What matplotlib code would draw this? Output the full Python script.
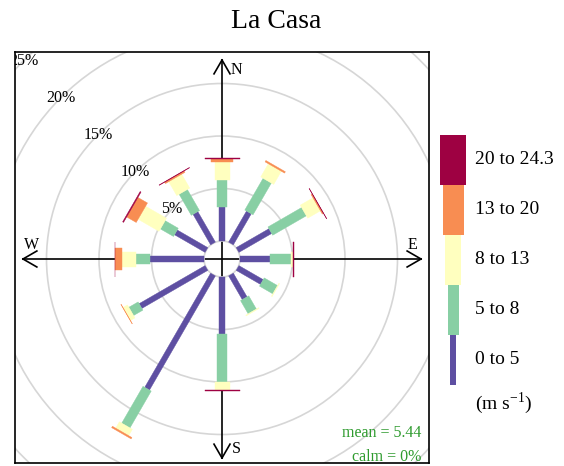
import numpy as np
import matplotlib
matplotlib.use("Agg")
import matplotlib.pyplot as plt
from matplotlib.patches import Polygon, Circle, Rectangle

plt.rcParams["font.family"] = ["Liberation Serif", "DejaVu Serif"]
plt.rcParams["mathtext.fontset"] = "custom"
plt.rcParams["mathtext.rm"] = "Liberation Serif"

TITLE = "La Casa"
DIRECTIONS = [0, 30, 60, 90, 120, 150, 180, 210, 240, 270, 300, 330]
SPEED_BANDS = ["0 to 5", "5 to 8", "8 to 13", "13 to 20", "20 to 24.3"]
BAND_COLOURS = ["#5E4FA2", "#88CFA4", "#FFFFBF", "#F88D52", "#9E0142"]

# frequency (%) of each wind speed band, per direction
FREQ_0_5 = [3.20, 3.41, 3.60, 2.90, 2.67, 2.60, 5.43, 12.55, 7.25, 5.10, 3.36, 3.35]
FREQ_5_8 = [2.64, 3.49, 3.70, 2.00, 1.46, 1.45, 4.61, 4.05, 1.02, 1.42, 1.44, 2.32]
FREQ_8_13 = [1.65, 1.45, 1.40, 0.12, 0.08, 0.08, 0.76, 0.70, 0.49, 1.27, 2.30, 1.53]
FREQ_13_20 = [0.35, 0.15, 0.12, 0.00, 0.00, 0.00, 0.00, 0.15, 0.03, 0.64, 1.05, 0.15]
FREQ_20_24 = [0.09, 0.00, 0.03, 0.08, 0.00, 0.00, 0.08, 0.00, 0.00, 0.08, 0.10, 0.04]

RING_LEVELS = [5, 10, 15, 20, 25]
MEAN_WS = 5.44
CALM = 0

PX = 10.5            # pixels per percent
OFFSET = 18 / PX     # calm circle radius
BAR_WIDTHS = np.array([5.5, 9.5, 15, 22.5, 35]) / PX


def draw_bar(ax, direction, r1, r2, width, colour):
    theta = np.deg2rad(direction)
    u = np.array([np.sin(theta), np.cos(theta)])
    p = np.array([np.cos(theta), -np.sin(theta)])
    corners = [r1 * u - width / 2 * p, r1 * u + width / 2 * p,
               r2 * u + width / 2 * p, r2 * u - width / 2 * p]
    ax.add_patch(Polygon(corners, closed=True, facecolor=colour,
                         edgecolor=colour, linewidth=0.3, zorder=5))


def draw_axis_arrow(ax, length, head=16 / PX, angle=30):
    ax.plot([-length, length], [0, 0], color="black", lw=1.2, zorder=3)
    ax.plot([0, 0], [-length, length], color="black", lw=1.2, zorder=3)
    a = np.deg2rad(angle)
    for dx, dy in [(1, 0), (-1, 0), (0, 1), (0, -1)]:
        tip = np.array([dx, dy]) * length
        back = -np.array([dx, dy])
        perp = np.array([-dy, dx])
        for s in (1, -1):
            end = tip + head * (np.cos(a) * back + s * np.sin(a) * perp)
            ax.plot([tip[0], end[0]], [tip[1], end[1]], color="black",
                    lw=1.2, zorder=3)


def main():
    fig = plt.figure(figsize=(5.64, 4.66), dpi=100)

    ax = fig.add_axes([15 / 564, 3 / 466, 414 / 564, 411 / 466])
    ax.set_xlim(-207 / PX, 207 / PX)
    ax.set_ylim(-204 / PX, 207 / PX)
    ax.set_xticks([])
    ax.set_yticks([])
    for spine in ax.spines.values():
        spine.set_linewidth(1.2)

    # grid rings and labels
    for level in RING_LEVELS:
        r = OFFSET + level
        ax.add_patch(Circle((0, 0), r, fill=False, edgecolor="#D6D6D6",
                            linewidth=1.2, zorder=1))
        pos = r * np.array([-np.sin(np.pi / 4), np.cos(np.pi / 4)])
        ax.text(pos[0], pos[1], f"{level}%", ha="center", va="center",
                fontsize=11.5, zorder=2, clip_on=True)
    ax.add_patch(Circle((0, 0), OFFSET, fill=False, edgecolor="#D6D6D6",
                        linewidth=1.2, zorder=4))

    draw_axis_arrow(ax, 199 / PX)
    ax.text(14 / PX, 189 / PX, "N", ha="center", va="center", fontsize=11.5)
    ax.text(14 / PX, -190 / PX, "S", ha="center", va="center", fontsize=11.5)
    ax.text(190 / PX, 14 / PX, "E", ha="center", va="center", fontsize=11.5)
    ax.text(-190 / PX, 14 / PX, "W", ha="center", va="center", fontsize=11.5)

    freqs = np.array([FREQ_0_5, FREQ_5_8, FREQ_8_13, FREQ_13_20, FREQ_20_24])
    cum = np.cumsum(freqs, axis=0)
    for j, direction in enumerate(DIRECTIONS):
        for i, colour in enumerate(BAND_COLOURS):
            if freqs[i, j] <= 0:
                continue
            start = OFFSET + (cum[i - 1, j] if i > 0 else 0)
            end = OFFSET + cum[i, j]
            draw_bar(ax, direction, start, end, BAR_WIDTHS[i], colour)

    ax.text(199 / PX, -178 / PX, f"mean = {MEAN_WS}", ha="right",
            va="baseline", fontsize=11.5, color="#2E9B2E", zorder=6)
    ax.text(199 / PX, -202 / PX, f"calm = {CALM}%", ha="right",
            va="baseline", fontsize=11.5, color="#2E9B2E", zorder=6)

    # overlay in pixel coordinates for title and key
    ov = fig.add_axes([0, 0, 1, 1])
    ov.set_xlim(0, 564)
    ov.set_ylim(466, 0)
    ov.axis("off")
    ov.patch.set_alpha(0)

    ov.text(276.5, 21, TITLE, ha="center", va="center", fontsize=20)

    n = len(SPEED_BANDS)
    for i, (label, colour) in enumerate(zip(SPEED_BANDS, BAND_COLOURS)):
        top = 135 + (n - 1 - i) * 50
        width = 6 + 5 * i
        ov.add_patch(Rectangle((453 - width / 2, top), width, 50,
                               facecolor=colour, edgecolor="none"))
        ov.text(475, top + 25, label, ha="left", va="center", fontsize=14)
    ov.text(475, 403, "(m s$^{-1}$)", ha="left", va="center", fontsize=14)

    fig.savefig("out.png", dpi=100)
    plt.close(fig)


if __name__ == "__main__":
    main()
